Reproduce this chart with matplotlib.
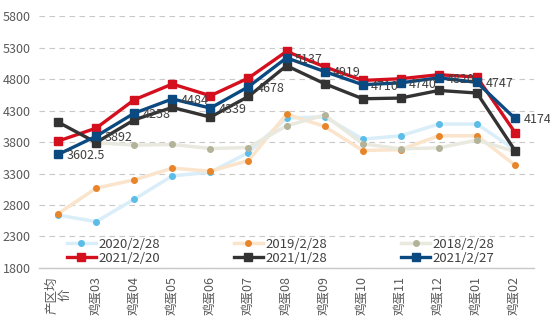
import numpy as np
import matplotlib.pyplot as plt

plt.rcParams['font.family'] = ['Noto Sans CJK SC', 'DejaVu Sans']

categories = ["产区均\n价", "鸡蛋03", "鸡蛋04", "鸡蛋05", "鸡蛋06", "鸡蛋07", "鸡蛋08",
              "鸡蛋09", "鸡蛋10", "鸡蛋11", "鸡蛋12", "鸡蛋01", "鸡蛋02"]

s2020 = [2640, 2536, 2892, 3263, 3320, 3633, 4180, 4200, 3846, 3899, 4085, 4085, 3680]
s2019 = [2663, 3067, 3199, 3385, 3337, 3506, 4244, 4047, 3665, 3680, 3899, 3899, 3433]
s2018 = [np.nan, 3790, 3751, 3761, 3697, 3713, 4058, 4228, 3772, 3692, 3708, 3830, 3650]
s20210220 = [3815, 4021, 4471, 4721, 4535, 4816, 5239, 4995, 4778, 4805, 4869, 4832, 3951]
s20210128 = [4116, 3792, 4153, 4349, 4196, 4524, 5012, 4726, 4487, 4498, 4619, 4578, 3665]
s20210227 = [3602.5, 3892, 4258, 4484, 4339, 4678, 5137, 4919, 4710, 4740, 4820, 4747, 4174]

x = np.arange(len(categories))

fig = plt.figure(figsize=(5.5, 3.28), dpi=100)
ax = fig.add_axes([0.071, 0.183, 0.9, 0.768])

light = [
    (s2020, "2020/2/28", "#d9eef8", "#5bbde8"),
    (s2019, "2019/2/28", "#fbe4cc", "#e8852a"),
    (s2018, "2018/2/28", "#e9e9df", "#b3b39a"),
]
handles = {}
for data, name, lc, mc in light:
    h, = ax.plot(x, data, color=lc, lw=2.5, marker='o', ms=4, mfc=mc, mec=mc,
                 label=name, zorder=2)
    handles[name] = h

bold = [
    (s20210220, "2021/2/20", "#d40f1e"),
    (s20210128, "2021/1/28", "#333333"),
    (s20210227, "2021/2/27", "#0b4a80"),
]
for i, (data, name, c) in enumerate(bold):
    h, = ax.plot(x, data, color=c, lw=2.4, marker='s', ms=6, label=name, zorder=3 + i)
    handles[name] = h

for xi, v in zip(x, s20210227):
    txt = ("%g" % v)
    ax.annotate(txt, (xi, v), xytext=(6, -1), textcoords='offset points',
                ha='left', va='center', fontsize=9, color='#404040', zorder=10)

ax.set_ylim(1800, 5800)
ax.set_yticks(np.arange(1800, 5801, 500))
ax.set_xlim(-0.5, len(categories) - 0.5)
ax.set_xticks(x)
ax.set_xticklabels(categories, rotation=90, fontsize=9, color='#595959',
                   linespacing=1.0)
ax.tick_params(axis='y', labelsize=9, colors='#595959', length=0, pad=6)
ax.tick_params(axis='x', length=0, pad=6)
ax.grid(axis='y', color='#c8c8c8', linestyle=(0, (5, 4)), lw=0.8)
ax.set_axisbelow(True)
for s in ['top', 'right', 'left']:
    ax.spines[s].set_visible(False)
ax.spines['bottom'].set_color('#c8c8c8')
ax.spines['bottom'].set_linewidth(1.0)

order = ["2020/2/28", "2021/2/20", "2019/2/28", "2021/1/28", "2018/2/28", "2021/2/27"]
leg = ax.legend([handles[k] for k in order], order, ncol=3, loc='lower left',
                bbox_to_anchor=(0.04, -0.02), frameon=False, fontsize=9.5,
                handlelength=2.2, handletextpad=0.2, columnspacing=5.6,
                labelspacing=0.1, borderaxespad=0.2)
for t in leg.get_texts():
    t.set_color('#404040')

fig.savefig("out.png", dpi=100)
